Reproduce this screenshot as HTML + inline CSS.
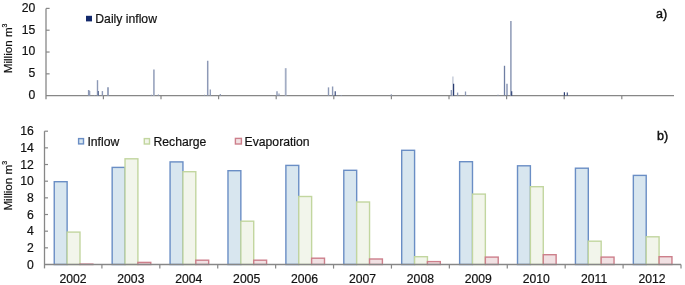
<!DOCTYPE html>
<html><head><meta charset="utf-8"><style>
html,body{margin:0;padding:0;background:#fff;}
body{width:685px;height:285px;overflow:hidden;}
svg{display:block;font-family:"Liberation Sans", sans-serif;-webkit-font-smoothing:antialiased;will-change:transform;filter:blur(0.3px);}
text{fill:#111;stroke:#111;stroke-width:0.2px;}
</style></head><body>
<svg width="685" height="285" viewBox="0 0 685 285">
<line x1="46.0" y1="8.4" x2="46.0" y2="99.2" stroke="#878787" stroke-width="1.3"/>
<text x="35.3" y="99.05" text-anchor="end" font-size="12.2">0</text>
<line x1="46.0" y1="73.84" x2="49.6" y2="73.84" stroke="#878787" stroke-width="1.2"/>
<text x="35.3" y="77.24" text-anchor="end" font-size="12.2">5</text>
<line x1="46.0" y1="52.03" x2="49.6" y2="52.03" stroke="#878787" stroke-width="1.2"/>
<text x="35.3" y="55.43" text-anchor="end" font-size="12.2">10</text>
<line x1="46.0" y1="30.21" x2="49.6" y2="30.21" stroke="#878787" stroke-width="1.2"/>
<text x="35.3" y="33.61" text-anchor="end" font-size="12.2">15</text>
<line x1="46.0" y1="8.40" x2="49.6" y2="8.40" stroke="#878787" stroke-width="1.2"/>
<text x="35.3" y="11.80" text-anchor="end" font-size="12.2">20</text>
<line x1="46.0" y1="95.65" x2="674.0" y2="95.65" stroke="#878787" stroke-width="1.3"/>
<line x1="103.40" y1="95.65" x2="103.40" y2="99.3" stroke="#878787" stroke-width="1.2"/>
<line x1="161.00" y1="95.65" x2="161.00" y2="99.3" stroke="#878787" stroke-width="1.2"/>
<line x1="218.60" y1="95.65" x2="218.60" y2="99.3" stroke="#878787" stroke-width="1.2"/>
<line x1="276.20" y1="95.65" x2="276.20" y2="99.3" stroke="#878787" stroke-width="1.2"/>
<line x1="333.80" y1="95.65" x2="333.80" y2="99.3" stroke="#878787" stroke-width="1.2"/>
<line x1="391.40" y1="95.65" x2="391.40" y2="99.3" stroke="#878787" stroke-width="1.2"/>
<line x1="449.00" y1="95.65" x2="449.00" y2="99.3" stroke="#878787" stroke-width="1.2"/>
<line x1="506.60" y1="95.65" x2="506.60" y2="99.3" stroke="#878787" stroke-width="1.2"/>
<line x1="564.20" y1="95.65" x2="564.20" y2="99.3" stroke="#878787" stroke-width="1.2"/>
<line x1="621.80" y1="95.65" x2="621.80" y2="99.3" stroke="#878787" stroke-width="1.2"/>
<line x1="88.7" y1="95.65" x2="88.7" y2="89.98" stroke="#8d99b6" stroke-width="1.6"/>
<line x1="89.7" y1="95.65" x2="89.7" y2="91.07" stroke="#8d99b6" stroke-width="1.2"/>
<line x1="94.5" y1="95.65" x2="94.5" y2="95.00" stroke="#8d99b6" stroke-width="1.2"/>
<line x1="97.5" y1="95.65" x2="97.5" y2="80.16" stroke="#8d99b6" stroke-width="1.4"/>
<line x1="98.4" y1="95.65" x2="98.4" y2="91.07" stroke="#5f6f96" stroke-width="1.1"/>
<line x1="102.4" y1="95.65" x2="102.4" y2="91.07" stroke="#8d99b6" stroke-width="1.4"/>
<line x1="108.0" y1="95.65" x2="108.0" y2="87.14" stroke="#8d99b6" stroke-width="1.7"/>
<line x1="151.4" y1="95.65" x2="151.4" y2="94.78" stroke="#8d99b6" stroke-width="1.2"/>
<line x1="153.9" y1="95.65" x2="153.9" y2="69.48" stroke="#a3adc4" stroke-width="1.8"/>
<line x1="158.4" y1="95.65" x2="158.4" y2="94.56" stroke="#8d99b6" stroke-width="1.2"/>
<line x1="204.5" y1="95.65" x2="204.5" y2="94.78" stroke="#8d99b6" stroke-width="1.2"/>
<line x1="207.7" y1="95.65" x2="207.7" y2="60.75" stroke="#8d99b6" stroke-width="1.5"/>
<line x1="210.3" y1="95.65" x2="210.3" y2="89.54" stroke="#8d99b6" stroke-width="1.3"/>
<line x1="220.3" y1="95.65" x2="220.3" y2="94.12" stroke="#8d99b6" stroke-width="1.2"/>
<line x1="277.0" y1="95.65" x2="277.0" y2="91.29" stroke="#8d99b6" stroke-width="1.4"/>
<line x1="279.0" y1="95.65" x2="279.0" y2="93.47" stroke="#8d99b6" stroke-width="1.2"/>
<line x1="285.7" y1="95.65" x2="285.7" y2="68.17" stroke="#a3adc4" stroke-width="1.8"/>
<line x1="328.5" y1="95.65" x2="328.5" y2="87.36" stroke="#8d99b6" stroke-width="1.4"/>
<line x1="332.6" y1="95.65" x2="332.6" y2="86.49" stroke="#8d99b6" stroke-width="1.4"/>
<line x1="335.2" y1="95.65" x2="335.2" y2="91.29" stroke="#2a3d72" stroke-width="1.1"/>
<line x1="341.3" y1="95.65" x2="341.3" y2="95.00" stroke="#8d99b6" stroke-width="1.2"/>
<line x1="391.3" y1="95.65" x2="391.3" y2="94.34" stroke="#8d99b6" stroke-width="1.2"/>
<line x1="451.3" y1="95.65" x2="451.3" y2="89.98" stroke="#8d99b6" stroke-width="1.3"/>
<line x1="452.9" y1="95.65" x2="452.9" y2="76.46" stroke="#c3cad8" stroke-width="1.4"/>
<line x1="453.6" y1="95.65" x2="453.6" y2="83.87" stroke="#2a3d72" stroke-width="1.2"/>
<line x1="457.6" y1="95.65" x2="457.6" y2="92.60" stroke="#8d99b6" stroke-width="1.3"/>
<line x1="465.5" y1="95.65" x2="465.5" y2="91.51" stroke="#8d99b6" stroke-width="1.3"/>
<line x1="498.0" y1="95.65" x2="498.0" y2="94.78" stroke="#8d99b6" stroke-width="1.2"/>
<line x1="504.5" y1="95.65" x2="504.5" y2="65.77" stroke="#6f7ea3" stroke-width="1.3"/>
<line x1="507.0" y1="95.65" x2="507.0" y2="83.65" stroke="#6f7ea3" stroke-width="1.2"/>
<line x1="510.9" y1="95.65" x2="510.9" y2="21.05" stroke="#8d99b6" stroke-width="1.5"/>
<line x1="511.7" y1="95.65" x2="511.7" y2="91.29" stroke="#2a3d72" stroke-width="1.1"/>
<line x1="564.4" y1="95.65" x2="564.4" y2="92.16" stroke="#2a3d72" stroke-width="1.2"/>
<line x1="567.3" y1="95.65" x2="567.3" y2="92.60" stroke="#4a5a88" stroke-width="1.2"/>
<rect x="86" y="15.8" width="6" height="5.6" fill="#13296b"/>
<text x="95.3" y="22.5" font-size="12.2">Daily inflow</text>
<text x="656" y="17.6" font-size="12.5" style="stroke-width:0.45px">a)</text>
<text transform="translate(11.6,73.2) rotate(-90)" font-size="11.6">Million m<tspan font-size="7" dy="-4.3">3</tspan></text>
<line x1="44.5" y1="131.2" x2="44.5" y2="268.4" stroke="#878787" stroke-width="1.3"/>
<text x="33.8" y="268.50" text-anchor="end" font-size="12.2">0</text>
<line x1="44.5" y1="247.84" x2="48" y2="247.84" stroke="#878787" stroke-width="1.2"/>
<text x="33.8" y="251.84" text-anchor="end" font-size="12.2">2</text>
<line x1="44.5" y1="231.18" x2="48" y2="231.18" stroke="#878787" stroke-width="1.2"/>
<text x="33.8" y="235.18" text-anchor="end" font-size="12.2">4</text>
<line x1="44.5" y1="214.51" x2="48" y2="214.51" stroke="#878787" stroke-width="1.2"/>
<text x="33.8" y="218.51" text-anchor="end" font-size="12.2">6</text>
<line x1="44.5" y1="197.85" x2="48" y2="197.85" stroke="#878787" stroke-width="1.2"/>
<text x="33.8" y="201.85" text-anchor="end" font-size="12.2">8</text>
<line x1="44.5" y1="181.19" x2="48" y2="181.19" stroke="#878787" stroke-width="1.2"/>
<text x="33.8" y="185.19" text-anchor="end" font-size="12.2">10</text>
<line x1="44.5" y1="164.52" x2="48" y2="164.52" stroke="#878787" stroke-width="1.2"/>
<text x="33.8" y="168.52" text-anchor="end" font-size="12.2">12</text>
<line x1="44.5" y1="147.86" x2="48" y2="147.86" stroke="#878787" stroke-width="1.2"/>
<text x="33.8" y="151.86" text-anchor="end" font-size="12.2">14</text>
<line x1="44.5" y1="131.20" x2="48" y2="131.20" stroke="#878787" stroke-width="1.2"/>
<text x="33.8" y="135.20" text-anchor="end" font-size="12.2">16</text>
<rect x="54.25" y="181.70" width="12.87" height="82.80" fill="#d8e6ef" stroke="#6a8ec5" stroke-width="1.4"/>
<rect x="67.12" y="232.10" width="12.87" height="32.40" fill="#f2f5eb" stroke="#c2d69f" stroke-width="1.4"/>
<rect x="79.99" y="264.10" width="12.87" height="0.40" fill="#f1e1e3" stroke="#cd7f8b" stroke-width="1.4"/>
<text x="72.95" y="283.1" text-anchor="middle" font-size="12.2">2002</text>
<rect x="112.16" y="167.40" width="12.87" height="97.10" fill="#d8e6ef" stroke="#6a8ec5" stroke-width="1.4"/>
<rect x="125.03" y="158.80" width="12.87" height="105.70" fill="#f2f5eb" stroke="#c2d69f" stroke-width="1.4"/>
<rect x="137.90" y="262.40" width="12.87" height="2.10" fill="#f1e1e3" stroke="#cd7f8b" stroke-width="1.4"/>
<text x="130.86" y="283.1" text-anchor="middle" font-size="12.2">2003</text>
<rect x="170.07" y="161.90" width="12.87" height="102.60" fill="#d8e6ef" stroke="#6a8ec5" stroke-width="1.4"/>
<rect x="182.94" y="171.70" width="12.87" height="92.80" fill="#f2f5eb" stroke="#c2d69f" stroke-width="1.4"/>
<rect x="195.81" y="260.20" width="12.87" height="4.30" fill="#f1e1e3" stroke="#cd7f8b" stroke-width="1.4"/>
<text x="188.77" y="283.1" text-anchor="middle" font-size="12.2">2004</text>
<rect x="227.98" y="170.70" width="12.87" height="93.80" fill="#d8e6ef" stroke="#6a8ec5" stroke-width="1.4"/>
<rect x="240.85" y="221.20" width="12.87" height="43.30" fill="#f2f5eb" stroke="#c2d69f" stroke-width="1.4"/>
<rect x="253.72" y="260.20" width="12.87" height="4.30" fill="#f1e1e3" stroke="#cd7f8b" stroke-width="1.4"/>
<text x="246.68" y="283.1" text-anchor="middle" font-size="12.2">2005</text>
<rect x="285.89" y="165.40" width="12.87" height="99.10" fill="#d8e6ef" stroke="#6a8ec5" stroke-width="1.4"/>
<rect x="298.76" y="196.50" width="12.87" height="68.00" fill="#f2f5eb" stroke="#c2d69f" stroke-width="1.4"/>
<rect x="311.63" y="258.20" width="12.87" height="6.30" fill="#f1e1e3" stroke="#cd7f8b" stroke-width="1.4"/>
<text x="304.59" y="283.1" text-anchor="middle" font-size="12.2">2006</text>
<rect x="343.80" y="170.30" width="12.87" height="94.20" fill="#d8e6ef" stroke="#6a8ec5" stroke-width="1.4"/>
<rect x="356.67" y="202.00" width="12.87" height="62.50" fill="#f2f5eb" stroke="#c2d69f" stroke-width="1.4"/>
<rect x="369.53" y="259.00" width="12.87" height="5.50" fill="#f1e1e3" stroke="#cd7f8b" stroke-width="1.4"/>
<text x="362.50" y="283.1" text-anchor="middle" font-size="12.2">2007</text>
<rect x="401.71" y="150.30" width="12.87" height="114.20" fill="#d8e6ef" stroke="#6a8ec5" stroke-width="1.4"/>
<rect x="414.57" y="256.70" width="12.87" height="7.80" fill="#f2f5eb" stroke="#c2d69f" stroke-width="1.4"/>
<rect x="427.44" y="261.60" width="12.87" height="2.90" fill="#f1e1e3" stroke="#cd7f8b" stroke-width="1.4"/>
<text x="420.41" y="283.1" text-anchor="middle" font-size="12.2">2008</text>
<rect x="459.62" y="161.70" width="12.87" height="102.80" fill="#d8e6ef" stroke="#6a8ec5" stroke-width="1.4"/>
<rect x="472.48" y="194.10" width="12.87" height="70.40" fill="#f2f5eb" stroke="#c2d69f" stroke-width="1.4"/>
<rect x="485.35" y="257.10" width="12.87" height="7.40" fill="#f1e1e3" stroke="#cd7f8b" stroke-width="1.4"/>
<text x="478.32" y="283.1" text-anchor="middle" font-size="12.2">2009</text>
<rect x="517.52" y="165.80" width="12.87" height="98.70" fill="#d8e6ef" stroke="#6a8ec5" stroke-width="1.4"/>
<rect x="530.39" y="186.70" width="12.87" height="77.80" fill="#f2f5eb" stroke="#c2d69f" stroke-width="1.4"/>
<rect x="543.26" y="254.70" width="12.87" height="9.80" fill="#f1e1e3" stroke="#cd7f8b" stroke-width="1.4"/>
<text x="536.23" y="283.1" text-anchor="middle" font-size="12.2">2010</text>
<rect x="575.43" y="168.20" width="12.87" height="96.30" fill="#d8e6ef" stroke="#6a8ec5" stroke-width="1.4"/>
<rect x="588.30" y="241.20" width="12.87" height="23.30" fill="#f2f5eb" stroke="#c2d69f" stroke-width="1.4"/>
<rect x="601.17" y="257.10" width="12.87" height="7.40" fill="#f1e1e3" stroke="#cd7f8b" stroke-width="1.4"/>
<text x="594.14" y="283.1" text-anchor="middle" font-size="12.2">2011</text>
<rect x="633.34" y="175.40" width="12.87" height="89.10" fill="#d8e6ef" stroke="#6a8ec5" stroke-width="1.4"/>
<rect x="646.21" y="236.80" width="12.87" height="27.70" fill="#f2f5eb" stroke="#c2d69f" stroke-width="1.4"/>
<rect x="659.08" y="256.70" width="12.87" height="7.80" fill="#f1e1e3" stroke="#cd7f8b" stroke-width="1.4"/>
<text x="652.05" y="283.1" text-anchor="middle" font-size="12.2">2012</text>
<line x1="44" y1="264.5" x2="681.0" y2="264.5" stroke="#878787" stroke-width="1.3"/>
<line x1="101.91" y1="264.5" x2="101.91" y2="268.6" stroke="#878787" stroke-width="1.2"/>
<line x1="159.82" y1="264.5" x2="159.82" y2="268.6" stroke="#878787" stroke-width="1.2"/>
<line x1="217.73" y1="264.5" x2="217.73" y2="268.6" stroke="#878787" stroke-width="1.2"/>
<line x1="275.64" y1="264.5" x2="275.64" y2="268.6" stroke="#878787" stroke-width="1.2"/>
<line x1="333.55" y1="264.5" x2="333.55" y2="268.6" stroke="#878787" stroke-width="1.2"/>
<line x1="391.45" y1="264.5" x2="391.45" y2="268.6" stroke="#878787" stroke-width="1.2"/>
<line x1="449.36" y1="264.5" x2="449.36" y2="268.6" stroke="#878787" stroke-width="1.2"/>
<line x1="507.27" y1="264.5" x2="507.27" y2="268.6" stroke="#878787" stroke-width="1.2"/>
<line x1="565.18" y1="264.5" x2="565.18" y2="268.6" stroke="#878787" stroke-width="1.2"/>
<line x1="623.09" y1="264.5" x2="623.09" y2="268.6" stroke="#878787" stroke-width="1.2"/>
<line x1="681.00" y1="264.5" x2="681.00" y2="268.6" stroke="#878787" stroke-width="1.2"/>
<rect x="78.6" y="138.6" width="4.9" height="5.3" fill="#d8e6ef" stroke="#6a8ec5" stroke-width="1.4"/>
<text x="87.4" y="145.9" font-size="12.2">Inflow</text>
<rect x="144.3" y="138.6" width="5.2" height="5.4" fill="#f2f5eb" stroke="#c2d69f" stroke-width="1.4"/>
<text x="153.5" y="145.9" font-size="12.2">Recharge</text>
<rect x="235.4" y="138.4" width="6.0" height="5.6" fill="#f1e1e3" stroke="#cd7f8b" stroke-width="1.4"/>
<text x="244.6" y="145.9" font-size="12.2">Evaporation</text>
<text x="657" y="139.5" font-size="12.5" style="stroke-width:0.45px">b)</text>
<text transform="translate(11.6,210.6) rotate(-90)" font-size="11.6">Million m<tspan font-size="7" dy="-4.3">3</tspan></text>
</svg>
</body></html>
